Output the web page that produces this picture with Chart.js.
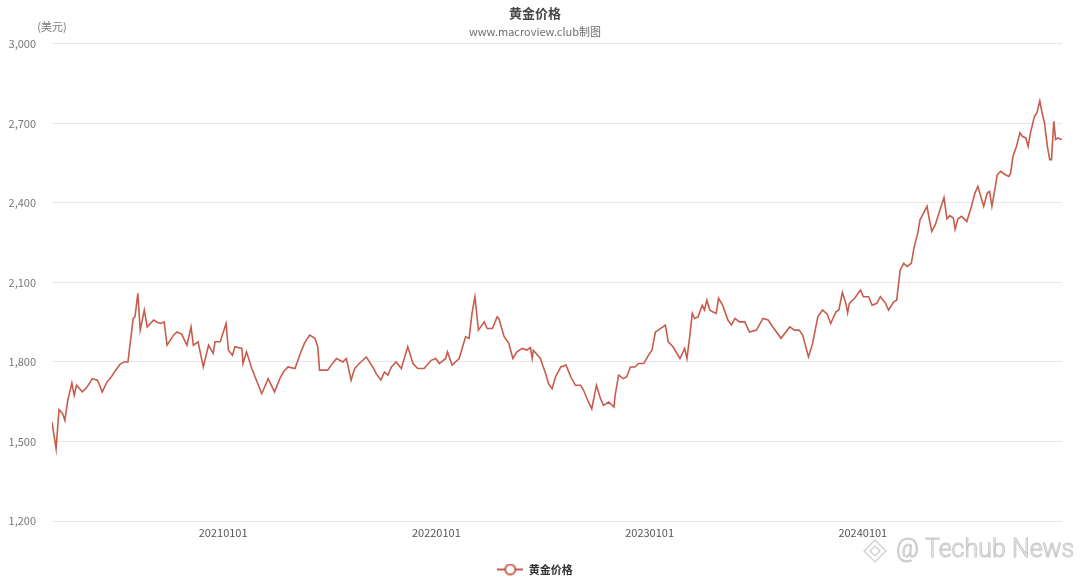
<!DOCTYPE html>
<html>
<head>
<meta charset="utf-8">
<title>黄金价格</title>
<script src="https://cdn.jsdelivr.net/npm/chart.js@4/dist/chart.umd.min.js"></script>
<style>
    html, body { margin: 0; padding: 0; background: #fff; }
    .chart-box { width: 1080px; height: 579px; position: relative; }
</style>
</head>
<body>
<div class="chart-box"><canvas id="goldChart"></canvas></div>
<script>
// Data (dates, prices in USD)
const dates = [
    '2020-03-14','2020-03-21','2020-03-26','2020-04-01','2020-04-05','2020-04-10','2020-04-17','2020-04-21','2020-04-25','2020-05-05',
    '2020-05-13','2020-05-22','2020-05-31','2020-06-08','2020-06-16','2020-06-24','2020-07-01','2020-07-08','2020-07-15','2020-07-22',
    '2020-07-31','2020-08-03','2020-08-08','2020-08-12','2020-08-19','2020-08-24','2020-09-04','2020-09-10','2020-09-16','2020-09-22',
    '2020-09-27','2020-10-08','2020-10-14','2020-10-22','2020-10-31','2020-11-07','2020-11-11','2020-11-19','2020-11-28','2020-12-07',
    '2020-12-15','2020-12-18','2020-12-27','2021-01-06','2021-01-10','2021-01-17','2021-01-21','2021-02-02','2021-02-04','2021-02-10',
    '2021-02-19','2021-02-27','2021-03-08','2021-03-19','2021-03-30','2021-04-08','2021-04-15','2021-04-22','2021-05-04','2021-05-12',
    '2021-05-20','2021-05-29','2021-06-07','2021-06-12','2021-06-15','2021-06-21','2021-06-29','2021-07-05','2021-07-14','2021-07-25',
    '2021-07-31','2021-08-08','2021-08-14','2021-08-22','2021-09-03','2021-09-14','2021-09-20','2021-09-28','2021-10-04','2021-10-10',
    '2021-10-16','2021-10-24','2021-11-02','2021-11-13','2021-11-22','2021-11-30','2021-12-11','2021-12-23','2021-12-31','2022-01-06',
    '2022-01-17','2022-01-20','2022-01-28','2022-02-09','2022-02-20','2022-02-26','2022-03-03','2022-03-08','2022-03-14','2022-03-24',
    '2022-03-29','2022-04-07','2022-04-15','2022-04-18','2022-04-27','2022-05-05','2022-05-12','2022-05-19','2022-05-28','2022-06-05',
    '2022-06-11','2022-06-14','2022-06-16','2022-06-28','2022-07-07','2022-07-12','2022-07-18','2022-07-24','2022-08-02','2022-08-11',
    '2022-08-19','2022-08-27','2022-09-05','2022-09-10','2022-09-16','2022-09-24','2022-10-02','2022-10-09','2022-10-14','2022-10-23',
    '2022-11-01','2022-11-03','2022-11-09','2022-11-17','2022-11-23','2022-11-29','2022-12-07','2022-12-13','2022-12-22','2022-12-30',
    '2023-01-05','2023-01-11','2023-01-16','2023-01-28','2023-02-02','2023-02-10','2023-02-22','2023-03-02','2023-03-06','2023-03-11',
    '2023-03-15','2023-03-19','2023-03-25','2023-04-01','2023-04-05','2023-04-09','2023-04-14','2023-04-19','2023-04-25','2023-04-29',
    '2023-05-06','2023-05-15','2023-05-21','2023-05-27','2023-06-04','2023-06-13','2023-06-21','2023-07-03','2023-07-14','2023-07-23',
    '2023-07-31','2023-08-14','2023-08-29','2023-09-06','2023-09-14','2023-09-20','2023-09-30','2023-10-07','2023-10-16','2023-10-24',
    '2023-11-01','2023-11-07','2023-11-16','2023-11-21','2023-11-27','2023-12-03','2023-12-06','2023-12-09','2023-12-18','2023-12-28',
    '2024-01-02','2024-01-11','2024-01-17','2024-01-25','2024-01-31','2024-02-09','2024-02-14','2024-02-23','2024-02-28','2024-03-05',
    '2024-03-11','2024-03-17','2024-03-24','2024-03-29','2024-04-04','2024-04-08','2024-04-14','2024-04-20','2024-04-24','2024-04-28',
    '2024-05-04','2024-05-13','2024-05-19','2024-05-24','2024-05-29','2024-06-04','2024-06-07','2024-06-12','2024-06-18','2024-06-27',
    '2024-07-05','2024-07-11','2024-07-16','2024-07-20','2024-07-26','2024-08-01','2024-08-05','2024-08-09','2024-08-15','2024-08-18',
    '2024-08-24','2024-09-01','2024-09-07','2024-09-10','2024-09-14','2024-09-20','2024-09-26','2024-09-30','2024-10-06','2024-10-10',
    '2024-10-14','2024-10-21','2024-10-25','2024-10-30','2024-11-03','2024-11-07','2024-11-12','2024-11-16','2024-11-19','2024-11-23',
    '2024-11-26','2024-11-30','2024-12-05','2024-12-07'
];

const prices = [
    1573, 1472, 1620, 1606, 1580, 1655, 1720, 1674, 1712, 1687,
    1705, 1737, 1731, 1687, 1724, 1745, 1769, 1790, 1800, 1800,
    1964, 1970, 2059, 1920, 1996, 1932, 1958, 1950, 1945, 1951,
    1863, 1901, 1913, 1905, 1863, 1932, 1863, 1876, 1781, 1863,
    1832, 1876, 1876, 1945, 1844, 1825, 1857, 1851, 1794, 1838,
    1775, 1731, 1680, 1737, 1687, 1737, 1765, 1781, 1775, 1825,
    1870, 1901, 1889, 1857, 1769, 1769, 1769, 1788, 1813, 1800,
    1813, 1731, 1775, 1794, 1819, 1781, 1756, 1731, 1762, 1750,
    1781, 1800, 1775, 1857, 1794, 1775, 1775, 1806, 1813, 1794,
    1813, 1838, 1788, 1813, 1895, 1889, 1983, 2046, 1920, 1951,
    1926, 1926, 1970, 1964, 1895, 1870, 1813, 1838, 1851, 1845,
    1854, 1813, 1844, 1813, 1756, 1718, 1699, 1744, 1781, 1788,
    1744, 1712, 1712, 1693, 1661, 1623, 1712, 1661, 1636, 1649,
    1630, 1674, 1750, 1737, 1744, 1781, 1781, 1794, 1794, 1825,
    1844, 1913, 1920, 1939, 1876, 1857, 1813, 1851, 1813, 1901,
    1983, 1964, 1970, 2014, 1996, 2033, 1996, 1989, 1983, 2040,
    2014, 1958, 1939, 1964, 1951, 1951, 1913, 1920, 1964, 1958,
    1932, 1889, 1932, 1920, 1920, 1901, 1819, 1870, 1970, 1996,
    1980, 1945, 1989, 1996, 2062, 2021, 1985, 2021, 2040, 2071,
    2046, 2046, 2014, 2021, 2046, 2021, 1996, 2027, 2033, 2147,
    2172, 2160, 2172, 2235, 2285, 2336, 2361, 2387, 2336, 2292,
    2317, 2380, 2420, 2340, 2352, 2343, 2300, 2340, 2349, 2330,
    2387, 2437, 2462, 2431, 2387, 2437, 2443, 2387, 2462, 2506,
    2519, 2506, 2500, 2512, 2575, 2613, 2664, 2651, 2645, 2613,
    2664, 2727, 2739, 2784, 2739, 2702, 2613, 2563, 2563, 2708,
    2639, 2645, 2639, 2640
];

// Axis ticks
const xTickDates = ['2021-01-01', '2022-01-01', '2023-01-01', '2024-01-01'];
const xTickLabels = ['20210101', '20220101', '20230101', '20240101'];
const yMin = 1200;
const yMax = 3000;
const yStep = 300;

// Colors
const chartColors = {
    line: '#c85c4c',
    grid: '#e8e8e8',
    title: '#464646',
    subtitle: '#6e6e6e',
    tick: '#777777'
};

// Date string -> day number
function dayNum(str) {
    const p = str.split('-').map(Number);
    return Date.UTC(p[0], p[1] - 1, p[2]) / 86400000;
}

// Format numbers with commas
function formatNumber(num) {
    return num.toString().replace(/\B(?=(\d{3})+(?!\d))/g, ',');
}

// Legend marker: line with a hollow circle
function legendMarker() {
    const c = document.createElement('canvas');
    c.width = 26;
    c.height = 14;
    const g = c.getContext('2d');
    g.strokeStyle = chartColors.line;
    g.lineWidth = 2;
    g.beginPath();
    g.moveTo(0, 7);
    g.lineTo(26, 7);
    g.stroke();
    g.fillStyle = '#fff';
    g.beginPath();
    g.arc(13, 7, 5, 0, Math.PI * 2);
    g.fill();
    g.stroke();
    return c;
}

// Extra texts: unit label and watermark
const extraText = {
    id: 'extraText',
    afterDraw(chart) {
        const ctx = chart.ctx;
        const area = chart.chartArea;
        ctx.save();
        ctx.font = '11px "Noto Sans CJK SC", sans-serif';
        ctx.fillStyle = chartColors.tick;
        ctx.textAlign = 'center';
        ctx.textBaseline = 'middle';
        ctx.fillText('(美元)', area.left, 27);

        // watermark logo (two nested diamonds)
        ctx.strokeStyle = '#cccccc';
        ctx.lineWidth = 1.2;
        [11, 5].forEach(r => {
            ctx.beginPath();
            ctx.moveTo(875, 551 - r);
            ctx.lineTo(875 + r, 551);
            ctx.lineTo(875, 551 + r);
            ctx.lineTo(875 - r, 551);
            ctx.closePath();
            ctx.stroke();
        });

        ctx.font = '300 25px Roboto, sans-serif';
        ctx.textAlign = 'left';
        ctx.lineWidth = 1;
        ctx.strokeStyle = '#c8c8c8';
        ctx.fillStyle = '#ffffff';
        ctx.fillText('@ Techub News', 896, 551);
        ctx.strokeText('@ Techub News', 896, 551);
        ctx.restore();
    }
};

Chart.defaults.font.family = '"Noto Sans CJK SC", "Noto Sans", sans-serif';

const goldCtx = document.getElementById('goldChart').getContext('2d');
const goldChart = new Chart(goldCtx, {
    type: 'line',
    data: {
        datasets: [{
            label: '黄金价格',
            data: dates.map((d, i) => ({ x: dayNum(d), y: prices[i] })),
            borderColor: chartColors.line,
            backgroundColor: chartColors.line,
            borderWidth: 1.6,
            pointRadius: 0,
            tension: 0,
            fill: false
        }]
    },
    options: {
        responsive: true,
        maintainAspectRatio: false,
        animation: false,
        layout: {
            padding: { left: 8, right: 18, top: 0, bottom: -6 }
        },
        plugins: {
            title: {
                display: true,
                text: '黄金价格',
                color: chartColors.title,
                font: { size: 13, weight: 'bold' },
                padding: { top: 5, bottom: 2 }
            },
            subtitle: {
                display: true,
                text: 'www.macroview.club制图',
                color: chartColors.subtitle,
                font: { size: 11 },
                padding: { top: 3, bottom: 5 }
            },
            legend: {
                position: 'bottom',
                labels: {
                    usePointStyle: true,
                    pointStyle: legendMarker(),
                    pointStyleWidth: 26,
                    color: '#333',
                    font: { size: 11, weight: 'bold' },
                    padding: 0
                }
            },
            tooltip: { enabled: false }
        },
        scales: {
            x: {
                type: 'linear',
                min: dayNum(dates[0]),
                max: dayNum(dates[dates.length - 1]),
                afterBuildTicks: (axis) => {
                    axis.ticks = xTickDates.map(d => ({ value: dayNum(d) }));
                },
                afterFit: (axis) => {
                    axis.height = 43;
                },
                grid: { display: false, drawTicks: false },
                border: { display: false },
                ticks: {
                    autoSkip: false,
                    maxRotation: 0,
                    color: '#555',
                    font: { size: 11 },
                    padding: 5,
                    callback: (value, index) => xTickLabels[index]
                }
            },
            y: {
                min: yMin,
                max: yMax,
                afterFit: (axis) => {
                    axis.width = 44;
                },
                grid: {
                    color: chartColors.grid,
                    drawTicks: false
                },
                border: { display: false },
                ticks: {
                    stepSize: yStep,
                    color: chartColors.tick,
                    font: { size: 11 },
                    padding: 16,
                    callback: (value) => formatNumber(value)
                }
            }
        }
    },
    plugins: [extraText]
});
</script>
</body>
</html>
